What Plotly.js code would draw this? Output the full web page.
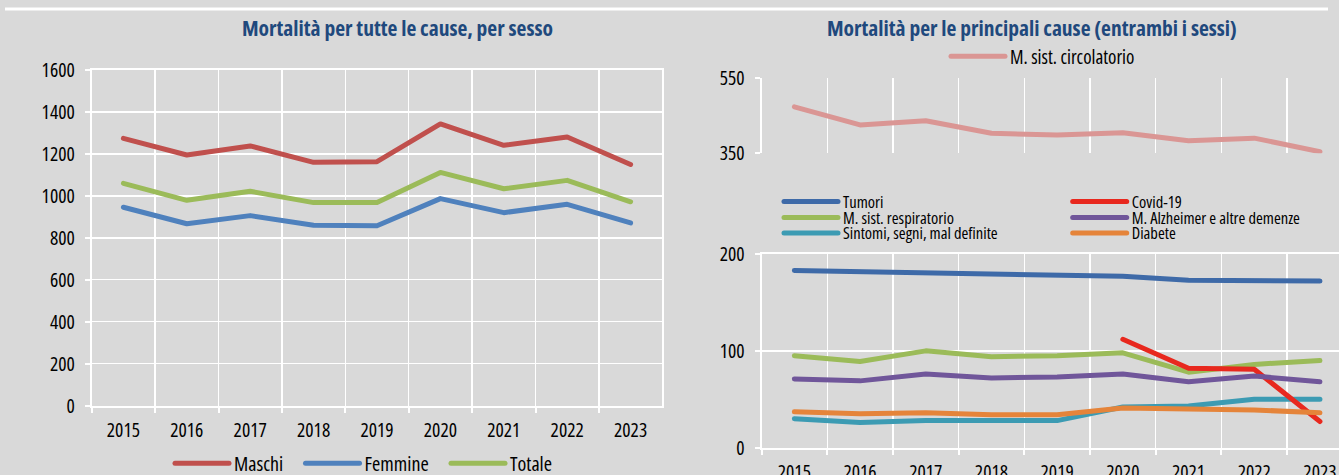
<!DOCTYPE html>
<html>
<head>
<meta charset="utf-8">
<script src="https://cdn.plot.ly/plotly-3.0.1.min.js"></script>
<style>
  html, body { margin: 0; padding: 0; overflow: hidden; background: #D9D9D9; }
  #chart { width: 1380px; height: 500px; }
  svg text { font-stretch: 75% !important; }
  .js-line { stroke-linecap: round; stroke-linejoin: round; }
</style>
</head>
<body>
<div id="chart"></div>
<script>
// ---------- data ----------
const years = ['2015', '2016', '2017', '2018', '2019', '2020', '2021', '2022', '2023'];

// left panel: all causes, by sex
const maschi  = [1274, 1195, 1238, 1160, 1163, 1343, 1241, 1281, 1150];
const femmine = [946, 867, 906, 860, 858, 987, 920, 960, 871];
const totale  = [1060, 979, 1022, 968, 968, 1112, 1034, 1074, 972];

// right panel: main causes (both sexes)
const circolatorio = [473, 425, 436, 403, 398, 404, 383, 390, 354];
const tumori       = [183, 182, 181, 180, 178, 177, 173, 172, 172];
const covid        = [null, null, null, null, null, 112, 82, 81, 27];
const respiratorio = [95, 89, 100, 94, 95, 98, 78, 86, 90];
const alzheimer    = [71, 69, 76, 72, 73, 76, 68, 74, 68];
const sintomi      = [30, 26, 28, 28, 28, 42, 43, 50, 50];
const diabete      = [37, 35, 36, 34, 34, 41, 40, 39, 36];

const leftTicks = [0, 200, 400, 600, 800, 1000, 1200, 1400, 1600];
const rightTopTicks = [350, 550];
const rightBottomTicks = [0, 100, 200];

const titleLeft = 'Mortalità per tutte le cause, per sesso';
const titleRight = 'Mortalità per le principali cause (entrambi i sessi)';

// ---------- layout helpers ----------
const W = 1380, H = 500;
const fx = p => p / W;
const fy = p => 1 - p / H;
const FONT = 'Open Sans, Liberation Sans, sans-serif';
const BG = '#D9D9D9';
const LW = 5;
const TICK = 19.5;

function line(name, x, y, xa, ya, color, legend) {
  return { type: 'scatter', mode: 'lines', name: name, x: x, y: y,
           xaxis: xa, yaxis: ya, legend: legend,
           line: { color: color, width: LW }, connectgaps: false, hoverinfo: 'skip' };
}

const traces = [
  line('Maschi', years, maschi, 'x', 'y', '#C0504D', 'legend'),
  line('Femmine', years, femmine, 'x', 'y', '#4F81BD', 'legend2'),
  line('Totale', years, totale, 'x', 'y', '#9BBB59', 'legend3'),
  line('M. sist. circolatorio', years, circolatorio, 'x2', 'y3', '#DA9694', 'legend4'),
  line('Tumori', years, tumori, 'x2', 'y2', '#3E6AA8', 'legend5'),
  line('M. sist. respiratorio', years, respiratorio, 'x2', 'y2', '#9BBB59', 'legend6'),
  line('Sintomi, segni, mal definite', years, sintomi, 'x2', 'y2', '#3C9BB3', 'legend7'),
  line('Covid-19', years, covid, 'x2', 'y2', '#E8281E', 'legend8'),
  line('M. Alzheimer e altre demenze', years, alzheimer, 'x2', 'y2', '#70569A', 'legend9'),
  line('Diabete', years, diabete, 'x2', 'y2', '#E5843A', 'legend10')
];

function xAxis(domain, anchor) {
  return {
    type: 'category', domain: domain, anchor: anchor, range: [-0.5, 8.5],
    tickson: 'boundaries', showgrid: true, gridcolor: '#FFFFFF', gridwidth: 1.3,
    showline: true, linecolor: '#FFFFFF', linewidth: 2, mirror: true,
    ticks: 'outside', ticklen: 5, tickwidth: 2, tickcolor: '#FFFFFF',
    ticklabelstandoff: 6,
    showticklabels: true, zeroline: false, fixedrange: true,
    tickfont: { family: FONT, size: TICK, color: '#000000' }
  };
}
function yAxis(domain, anchor, range, ticks, mirror) {
  return {
    domain: domain, anchor: anchor, range: range, tickmode: 'array', tickvals: ticks,
    showgrid: true, gridcolor: '#FFFFFF', gridwidth: 1.3,
    showline: true, linecolor: '#FFFFFF', linewidth: 2, mirror: mirror,
    ticks: 'outside', ticklen: 5, tickwidth: 2, tickcolor: '#FFFFFF',
    ticklabelstandoff: 6,
    zeroline: false, fixedrange: true,
    tickfont: { family: FONT, size: TICK, color: '#000000' }
  };
}
function legendAt(lineStartPx, yPx, size) {
  return { x: fx(lineStartPx - 5), y: fy(yPx), xanchor: 'left', yanchor: 'middle',
           xref: 'paper', yref: 'paper',
           bgcolor: 'rgba(0,0,0,0)', borderwidth: 0, itemwidth: 54,
           font: { family: FONT, size: size, color: '#000000' },
           itemclick: false, itemdoubleclick: false };
}

const layout = {
  width: W, height: H,
  margin: { l: 0, r: 0, t: 0, b: 0, autoexpand: false },
  paper_bgcolor: BG, plot_bgcolor: BG,
  showlegend: true,
  xaxis: xAxis([fx(91.7), fx(662.3)], 'y'),
  yaxis: yAxis([fy(405.7), fy(70)], 'x', [0, 1600], leftTicks, true),
  xaxis2: xAxis([fx(761.5), fx(1352.8)], 'y2'),
  yaxis2: yAxis([fy(447.7), fy(254)], 'x2', [0, 200], rightBottomTicks, true),
  yaxis3: yAxis([fy(153.3), fy(77.7)], 'x2', [349.8, 550.2], rightTopTicks, false),
  legend: legendAt(175, 463.3, 20),
  legend2: legendAt(305.5, 463.3, 20),
  legend3: legendAt(451, 463.3, 20),
  legend4: legendAt(951, 56.5, 19),
  legend5: legendAt(784, 201.7, 16.5),
  legend6: legendAt(784, 217.7, 16.5),
  legend7: legendAt(784, 233.3, 16.5),
  legend8: legendAt(1072.7, 201.7, 16.5),
  legend9: legendAt(1072.7, 217.7, 16.5),
  legend10: legendAt(1072.7, 233.3, 16.5),
  shapes: [
    { type: 'line', xref: 'paper', yref: 'paper', x0: fx(5), x1: fx(1328), y0: fy(9), y1: fy(9),
      line: { color: '#FFFFFF', width: 3 } }
  ],
  annotations: [
    { text: titleLeft, xref: 'paper', yref: 'paper', x: fx(397), y: fy(27),
      xanchor: 'center', yanchor: 'middle', showarrow: false,
      font: { family: FONT, size: 21.5, color: '#1F497D', weight: 'bold' } },
    { text: titleRight, xref: 'paper', yref: 'paper', x: fx(1032), y: fy(27),
      xanchor: 'center', yanchor: 'middle', showarrow: false,
      font: { family: FONT, size: 21.5, color: '#1F497D', weight: 'bold' } }
  ]
};

Plotly.newPlot('chart', traces, layout, { staticPlot: true, displayModeBar: false });
</script>
</body>
</html>
